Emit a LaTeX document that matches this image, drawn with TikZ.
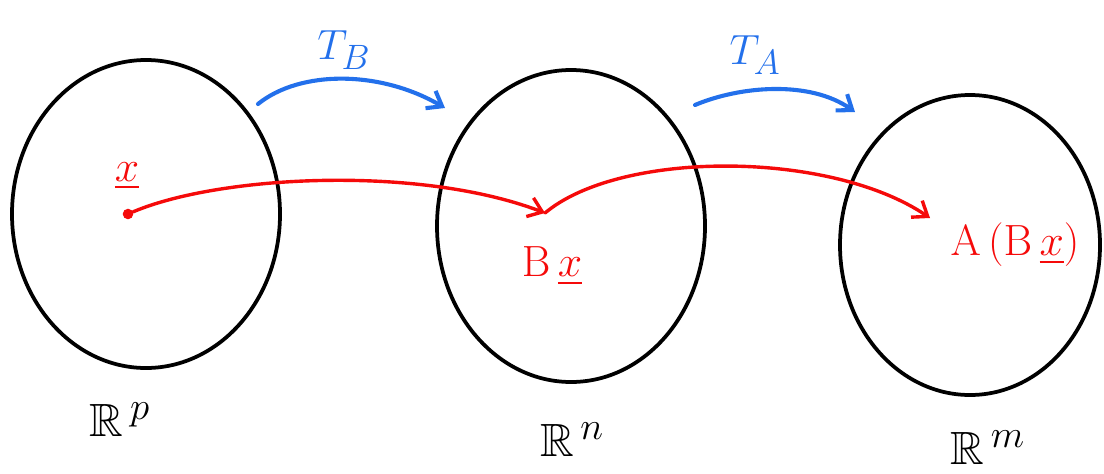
\documentclass[tikz,border=0pt]{standalone}
\usepackage{amssymb}
\usepackage{tikz}
\usetikzlibrary{arrows.meta,positioning,shapes.geometric}

\definecolor{penblue}{RGB}{35,112,235}
\definecolor{penred}{RGB}{245,10,10}

\begin{document}
\begin{tikzpicture}[
    x=0.03cm, y=-0.03cm,
    every node/.style={font=\Huge},
    space/.style={draw, ellipse, line width=3.2pt, inner sep=0pt},
    spacelabel/.style={scale=1.6, transform shape},
    maparrow/.style={draw=penblue, line width=3.5pt, line cap=round, -{Straight Barb[length=4mm, width=6mm]}},
    maplabel/.style={text=penblue, scale=1.45, transform shape},
    image/.style={draw=penred, line width=2.9pt, line cap=round, -{Straight Barb[length=4mm, width=6mm]}},
    imagelabel/.style={text=penred, scale=1.5, transform shape}
]
\useasboundingbox (0,0) rectangle (1104,473);

% the three spaces
\node[space, minimum width=8.04cm, minimum height=9.24cm] (rp) at (146,214) {};
\node[space, minimum width=8.04cm, minimum height=9.36cm] (rn) at (571,226) {};
\node[space, minimum width=7.8cm, minimum height=9.0cm] (rm) at (970,245) {};

\node[spacelabel] (rplab) at (120,420) {$\mathbb{R}^{\,p}$};
\node[spacelabel] (rnlab) at (572,440) {$\mathbb{R}^{\,n}$};
\node[spacelabel] (rmlab) at (988,448) {$\mathbb{R}^{\,m}$};

% the maps
\coordinate (tbstart) at (258,104);
\coordinate (tbend) at (445,108);
\coordinate (tastart) at (695,105);
\coordinate (taend) at (855,112);
\draw[maparrow] (tbstart) .. controls (300,70) and (380,70) .. (tbend);
\draw[maparrow] (tastart) .. controls (740,86) and (810,80) .. (taend);
\node[maplabel] (tb) at (344,50) {$T_{B}$};
\node[maplabel] (ta) at (755,55) {$T_{A}$};

% the vector and its images
\node[circle, fill=penred, inner sep=0pt, minimum size=9pt] (xpt) at (128,214) {};
\coordinate (bxpt) at (545,213);
\coordinate (abxpt) at (930,218);
\draw[image] (xpt) .. controls (220,175) and (420,165) .. (bxpt);
\draw[image] (bxpt) .. controls (620,150) and (830,150) .. (abxpt);

\node[imagelabel] (xlab) at (127,176) {$\underline{x}$};
\node[imagelabel] (bxlab) at (552,266) {$\mathrm{B}\,\underline{x}$};
\node[imagelabel] (abxlab) at (1015,245) {$\mathrm{A}\,(\mathrm{B}\,\underline{x})$};
\end{tikzpicture}
\end{document}
